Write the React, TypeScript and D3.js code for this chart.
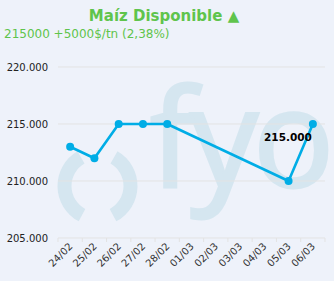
import React from "react";
import * as d3 from "d3";

const categories = ["24/02", "25/02", "26/02", "27/02", "28/02", "01/03", "02/03", "03/03", "04/03", "05/03", "06/03"];
const values: (number | null)[] = [213000, 212000, 215000, 215000, 215000, null, null, null, null, 210000, 215000];
const yTicks = [205000, 210000, 215000, 220000];
const title = "Maíz Disponible ▲";
const subtitle = "215000 +5000$/tn (2,38%)";
const lastLabel = "215.000";

const W = 334;
const H = 281;
const left = 58;
const right = 325;
const top = 67;
const bottom = 238;

const fmt = (v: number) => d3.format(",")(v).replace(/,/g, ".");

export default function App() {
  const x = d3.scaleBand<string>().domain(categories).range([left, right]).padding(0);
  const y = d3.scaleLinear().domain([205000, 220000]).range([bottom, top]);
  const cx = (c: string) => (x(c) as number) + x.bandwidth() / 2;
  const pts = categories
    .map((c, i) => ({ c, v: values[i] }))
    .filter((d) => d.v !== null) as { c: string; v: number }[];
  const line = d3
    .line<{ c: string; v: number }>()
    .x((d) => cx(d.c))
    .y((d) => y(d.v));
  const deg = Math.PI / 180;
  const ring = d3.arc();
  const arcL = ring({ innerRadius: 26, outerRadius: 40, startAngle: 208 * deg, endAngle: 330 * deg }) as string;
  const arcR = ring({ innerRadius: 26, outerRadius: 40, startAngle: 30 * deg, endAngle: 152 * deg }) as string;
  const last = pts[pts.length - 1];
  const tickXs = [...categories.map((c) => x(c) as number), right];
  const font = "'DejaVu Sans', Verdana, sans-serif";

  return (
    <svg width={W} height={H} style={{ position: "absolute", left: 0, top: 0, fontFamily: font }}>
      <rect x={0} y={0} width={W} height={H} fill="#eef2fa" />
      <g fill="#d5e6f0">
        <path d={arcL} transform="translate(97.5,186)" />
        <path d={arcR} transform="translate(97.5,186)" />
        <text
          x={150}
          y={187}
          fontSize={135}
          fontFamily="'Open Sans', sans-serif"
          letterSpacing={-5}
          stroke="#d5e6f0"
          strokeWidth={3}
        >
          fyo
        </text>
      </g>
      <text x={164} y={21} textAnchor="middle" fontSize={15} fontWeight="bold" fill="#5fc44c">
        {title}
      </text>
      <text x={4} y={38} fontSize={12} fill="#5fc44c">
        {subtitle}
      </text>
      {yTicks.map((t) => (
        <g key={t}>
          <line x1={left} x2={right} y1={y(t)} y2={y(t)} stroke="#e3e3e3" strokeWidth={1} />
          <text x={48} y={y(t)} dy="0.35em" textAnchor="end" fontSize={10} fill="#222">
            {fmt(t)}
          </text>
        </g>
      ))}
      {tickXs.map((tx, i) => (
        <line key={i} x1={tx} x2={tx} y1={bottom} y2={bottom + 4} stroke="#e3e3e3" />
      ))}
      {categories.map((c) => (
        <text
          key={c}
          transform={`translate(${cx(c) + 3},${bottom + 9}) rotate(-45)`}
          textAnchor="end"
          fontSize={10}
          fill="#333"
        >
          {c}
        </text>
      ))}
      <path d={line(pts) as string} fill="none" stroke="#00ade6" strokeWidth={2.6} strokeLinejoin="round" />
      {pts.map((d) => (
        <circle key={d.c} cx={cx(d.c)} cy={y(d.v)} r={4} fill="#00ade6" />
      ))}
      <text x={cx(last.c) - 1} y={y(last.v) + 17} textAnchor="end" fontSize={10.5} fontWeight="bold" fill="#000">
        {lastLabel}
      </text>
    </svg>
  );
}
